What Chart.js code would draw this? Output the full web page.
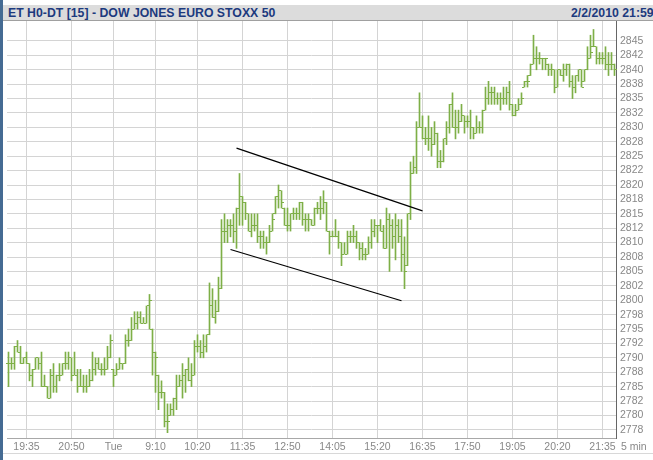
<!DOCTYPE html>
<html>
<head>
<meta charset="utf-8">
<script src="https://cdn.jsdelivr.net/npm/chart.js@4.4.1/dist/chart.umd.min.js"></script>
<style>
  body { margin: 0; background: #fff; }
  #wrap { position: relative; width: 653px; height: 460px; overflow: hidden; }
  #strip { position: absolute; left: 0; top: 0; width: 3px; height: 460px; background: #456b93; }
  #title {
    position: absolute; left: 3px; top: 5px; width: 650px; height: 15px;
    background: #dcdcdc; border-bottom: 1px solid #a0a0a0; overflow: hidden;
    font: bold 13px "Liberation Sans", Arial, sans-serif;
    color: #1c3a7e; line-height: 15px; white-space: nowrap;
  }
  #title .l { position: absolute; left: 5px; top: 0; transform: scaleX(0.945); transform-origin: 0 0; }
  #title .r { position: absolute; left: 568px; top: 0; transform: scaleX(0.945); transform-origin: 0 0; }
  canvas { position: absolute; left: 0; top: 0; }
</style>
</head>
<body>
<div id="wrap">
  <canvas id="myChart" width="653" height="460"></canvas>
  <div id="strip"></div>
  <div id="title"><span class="l">ET H0-DT [15] - DOW JONES EURO STOXX 50</span><span class="r">2/2/2010 21:59</span></div>
</div>
<script>
// sessions shown on the chart (5 min bars)
var sessionDays = ["Mon", "Tue"];
var sessionStart = ["19:05", "8:00"];
var sessionEnd = ["21:55", "21:55"];

// x axis labels
var xTickKeys = ["Mon 19:35", "Mon 20:50", "Tue 8:00", "Tue 9:10", "Tue 10:20", "Tue 11:35", "Tue 12:50",
  "Tue 14:05", "Tue 15:20", "Tue 16:35", "Tue 17:50", "Tue 19:05", "Tue 20:20", "Tue 21:35"];
var xTickTexts = ["19:35", "20:50", "Tue", "9:10", "10:20", "11:35", "12:50",
  "14:05", "15:20", "16:35", "17:50", "19:05", "20:20", "21:35"];

// y axis ticks
var yTicks = [2777.5, 2780, 2782.5, 2785, 2787.5, 2790, 2792.5, 2795, 2797.5, 2800, 2802.5, 2805,
  2807.5, 2810, 2812.5, 2815, 2817.5, 2820, 2822.5, 2825, 2827.5, 2830, 2832.5, 2835, 2837.5, 2840, 2842.5, 2845];

var opens = [
  2789,2789,2789,2792,2791,2789,2790,2789,2787,2788,
  2790,2789,2785,2785,2783,2787,2785,2787,2787,2789,
  2789,2790,2787,2787,2785,2785,2785,2785,2786,2788,
  2789,2788,2788,2788,2790,
  2788,2787,2788,2789,2789,
  2793,2793,2795,2796,2797,2796,2796,2799,2795,2791,
  2787,2784,2784,2779,2780,2781,2783,2785,2786,2787,
  2788,2786,2787,2792,2792,2791,2792,2794,2799,2797,
  2798,2802,2812,2812,2813,2813,2812,2816,2818,2817,
  2815,2812,2813,2813,2811,2811,2810,2810,2812,2815,
  2818,2819,2816,2813,2813,2815,2815,2815,2817,2814,
  2814,2814,2813,2816,2816,2816,2817,2812,2811,2811,
  2811,2810,2808,2808,2811,2811,2811,2810,2809,2808,
  2808,2810,2812,2813,2813,2812,2809,2814,2813,2811,
  2813,2811,2808,2806,2815,2822,2823,2830,2830,2828,
  2828,2828,2827,2829,2824,2824,2828,2830,2834,2830,
  2830,2831,2832,2831,2831,2830,2829,2830,2830,2833,
  2835,2836,2836,2835,2835,2835,2835,2836,2834,2832,
  2833,2834,2837,2838,2839,2841,2842,2842,2842,2842,
  2841,2840,2840,2837,2840,2839,2840,2841,2838,2837,
  2839,2840,2838,2840,2842,2844,2844,2842,2842,2842,
  2841,2841,2841];
var highs = [
  2791,2790,2792,2793,2792,2790,2791,2789,2788,2790,
  2790,2791,2787,2785,2788,2789,2787,2789,2789,2791,
  2791,2790,2791,2788,2788,2787,2787,2788,2791,2790,
  2790,2789,2790,2792,2794,
  2788,2789,2790,2789,2794,
  2795,2797,2798,2798,2798,2797,2799,2801,2795,2791,
  2787,2786,2784,2782,2782,2783,2787,2787,2789,2788,
  2790,2789,2793,2794,2793,2794,2794,2803,2802,2800,
  2804,2814,2815,2814,2814,2815,2816,2822,2818,2817,
  2815,2815,2815,2815,2812,2812,2811,2813,2815,2818,
  2820,2819,2816,2816,2815,2816,2816,2817,2817,2815,
  2815,2814,2816,2817,2818,2819,2817,2812,2812,2814,
  2812,2810,2810,2812,2812,2813,2812,2810,2810,2809,
  2811,2814,2814,2813,2814,2813,2816,2815,2814,2815,
  2814,2814,2811,2815,2824,2825,2831,2836,2832,2830,
  2832,2830,2831,2829,2826,2828,2831,2834,2836,2833,
  2833,2834,2832,2832,2833,2830,2832,2831,2833,2837,
  2838,2837,2837,2836,2836,2837,2837,2838,2834,2834,
  2835,2836,2838,2839,2841,2846,2844,2843,2842,2842,
  2841,2841,2840,2840,2840,2841,2841,2841,2839,2839,
  2840,2840,2840,2844,2846,2847,2844,2843,2843,2844,
  2843,2843,2841];
var lows = [
  2785,2788,2788,2791,2789,2789,2789,2786,2785,2788,
  2788,2785,2785,2783,2783,2784,2784,2786,2787,2788,
  2788,2786,2787,2784,2785,2784,2784,2785,2786,2787,
  2788,2787,2787,2788,2790,
  2785,2787,2788,2788,2789,
  2792,2793,2795,2795,2796,2796,2796,2795,2787,2784,
  2781,2783,2778,2777,2780,2780,2781,2785,2783,2784,
  2786,2785,2787,2791,2790,2790,2791,2794,2797,2796,
  2798,2802,2810,2810,2811,2810,2809,2813,2813,2814,
  2812,2811,2812,2810,2809,2809,2808,2810,2812,2815,
  2816,2816,2813,2812,2812,2814,2814,2814,2813,2812,
  2812,2813,2813,2815,2814,2815,2812,2808,2811,2811,
  2809,2806,2808,2808,2810,2810,2809,2807,2807,2807,
  2808,2809,2811,2810,2812,2809,2809,2805,2809,2807,
  2810,2805,2802,2806,2814,2822,2822,2830,2828,2827,
  2826,2825,2827,2823,2823,2824,2827,2829,2830,2828,
  2829,2831,2829,2830,2828,2828,2829,2829,2829,2833,
  2834,2834,2834,2834,2833,2834,2834,2833,2832,2832,
  2833,2834,2837,2837,2839,2841,2840,2841,2840,2840,
  2839,2839,2836,2837,2839,2838,2839,2837,2835,2836,
  2838,2837,2838,2840,2842,2844,2841,2841,2841,2840,
  2839,2840,2839];
var closes = [
  2789,2789,2792,2791,2789,2790,2789,2787,2788,2790,
  2789,2785,2785,2783,2787,2785,2787,2787,2789,2789,
  2790,2787,2787,2785,2785,2785,2785,2786,2788,2789,
  2788,2788,2788,2790,2793,
  2787,2788,2789,2789,2793,
  2793,2795,2796,2797,2796,2796,2799,2800,2791,2790,
  2784,2784,2779,2779,2781,2783,2785,2786,2787,2788,
  2786,2787,2792,2792,2791,2792,2794,2799,2797,2798,
  2802,2812,2812,2813,2813,2812,2816,2818,2817,2815,
  2812,2813,2813,2811,2811,2810,2810,2812,2814,2818,
  2819,2817,2813,2813,2815,2815,2815,2817,2814,2814,
  2814,2813,2816,2816,2816,2817,2812,2811,2811,2811,
  2810,2808,2808,2811,2811,2811,2810,2809,2808,2808,
  2810,2812,2813,2813,2812,2809,2814,2813,2811,2813,
  2811,2808,2805,2815,2822,2823,2830,2830,2828,2828,
  2828,2827,2829,2824,2824,2828,2830,2834,2830,2830,
  2831,2832,2831,2831,2830,2829,2830,2830,2833,2835,
  2836,2836,2835,2835,2835,2835,2836,2834,2832,2833,
  2834,2835,2838,2838,2841,2842,2842,2842,2842,2842,
  2840,2840,2837,2840,2839,2840,2841,2838,2837,2839,
  2840,2837,2840,2842,2843,2844,2842,2842,2842,2841,
  2841,2841,2840];

// drawn trend channel
var trendUpper = [{ x: "Tue 11:25", y: 2826.4 }, { x: "Tue 16:35", y: 2815.5 }];
var trendLower = [{ x: "Tue 11:15", y: 2808.8 }, { x: "Tue 16:00", y: 2799.9 }];

var barColor = "#7eaf47";

// build the 5 min category labels
function toMin(s) { var p = s.split(":"); return +p[0] * 60 + +p[1]; }
var labels = [];
for (var d = 0; d < sessionDays.length; d++) {
  for (var m = toMin(sessionStart[d]); m <= toMin(sessionEnd[d]); m += 5) {
    var mm = m % 60;
    labels.push(sessionDays[d] + " " + Math.floor(m / 60) + ":" + (mm < 10 ? "0" : "") + mm);
  }
}

function roundEven(v) {
  var f = Math.floor(v);
  var diff = v - f;
  if (diff > 0.5) return f + 1;
  if (diff < 0.5) return f;
  return f % 2 === 0 ? f : f + 1;
}

var ohlcTicks = {
  id: "ohlcTicks",
  afterDatasetDraw: function (chart, args) {
    if (args.index !== 0) return;
    var ctx = chart.ctx, xs = chart.scales.x, ys = chart.scales.y;
    ctx.save();
    ctx.fillStyle = barColor;
    for (var i = 0; i < opens.length; i++) {
      var col = Math.floor(xs.getPixelForValue(i));
      ctx.fillRect(col - 2, Math.floor(ys.getPixelForValue(opens[i])), 2, 1);
      ctx.fillRect(col + 1, Math.floor(ys.getPixelForValue(closes[i])), 2, 1);
    }
    ctx.restore();
  }
};

var frame = {
  id: "frame",
  beforeDraw: function (chart) {
    var ctx = chart.ctx;
    ctx.save();
    ctx.fillStyle = "#fff";
    ctx.fillRect(0, 0, chart.width, chart.height);
    ctx.restore();
  },
  afterDraw: function (chart) {
    var ctx = chart.ctx;
    ctx.save();
    ctx.fillStyle = "#d8d8d8";
    ctx.fillRect(3, 453, 650, 1);
    ctx.fillStyle = "#888";
    ctx.font = "10.5px 'Liberation Sans', Arial, sans-serif";
    ctx.textBaseline = "middle";
    ctx.textAlign = "left";
    ctx.fillText("5 min", 621, 447);
    ctx.restore();
  }
};

var data = {
  labels: labels,
  datasets: [
    {
      type: "bar",
      data: lows.map(function (l, i) { return [l, highs[i]]; }),
      backgroundColor: barColor,
      borderWidth: 0,
      barThickness: 1,
      order: 1
    },
    {
      type: "line",
      data: trendUpper,
      borderColor: "#000",
      borderWidth: 1.2,
      pointRadius: 0,
      order: 0
    },
    {
      type: "line",
      data: trendLower,
      borderColor: "#000",
      borderWidth: 1.2,
      pointRadius: 0,
      order: 0
    }
  ]
};

var tickFont = { family: "'Liberation Sans', Arial, sans-serif", size: 10.5 };

var config = {
  type: "bar",
  data: data,
  options: {
    responsive: false,
    animation: false,
    devicePixelRatio: 1,
    layout: { padding: { left: 7, top: 21, right: 0, bottom: 0 } },
    plugins: { legend: { display: false }, tooltip: { enabled: false } },
    scales: {
      x: {
        type: "category",
        offset: true,
        grid: { color: "#d4d4d4", offset: false, drawTicks: false },
        border: { color: "#a8a8a8" },
        afterBuildTicks: function (scale) {
          scale.ticks = scale.ticks.filter(function (t) { return xTickKeys.indexOf(labels[t.value]) >= 0; });
        },
        afterFit: function (scale) { scale.height = 22; },
        ticks: {
          autoSkip: false,
          maxRotation: 0,
          minRotation: 0,
          padding: 3,
          color: "#888",
          font: tickFont,
          callback: function (val) { return xTickTexts[xTickKeys.indexOf(labels[val])]; }
        }
      },
      y: {
        position: "right",
        min: 2776.08,
        max: 2848.47,
        grid: { color: "#d4d4d4", drawTicks: false },
        border: { color: "#666" },
        afterBuildTicks: function (scale) {
          scale.ticks = yTicks.map(function (v) { return { value: v }; });
        },
        afterFit: function (scale) { scale.width = 37; },
        ticks: {
          autoSkip: false,
          padding: 4,
          color: "#888",
          font: tickFont,
          callback: function (v) { return String(roundEven(v)); }
        }
      }
    }
  },
  plugins: [frame, ohlcTicks]
};

var myChart = new Chart(document.getElementById("myChart"), config);
</script>
</body>
</html>
